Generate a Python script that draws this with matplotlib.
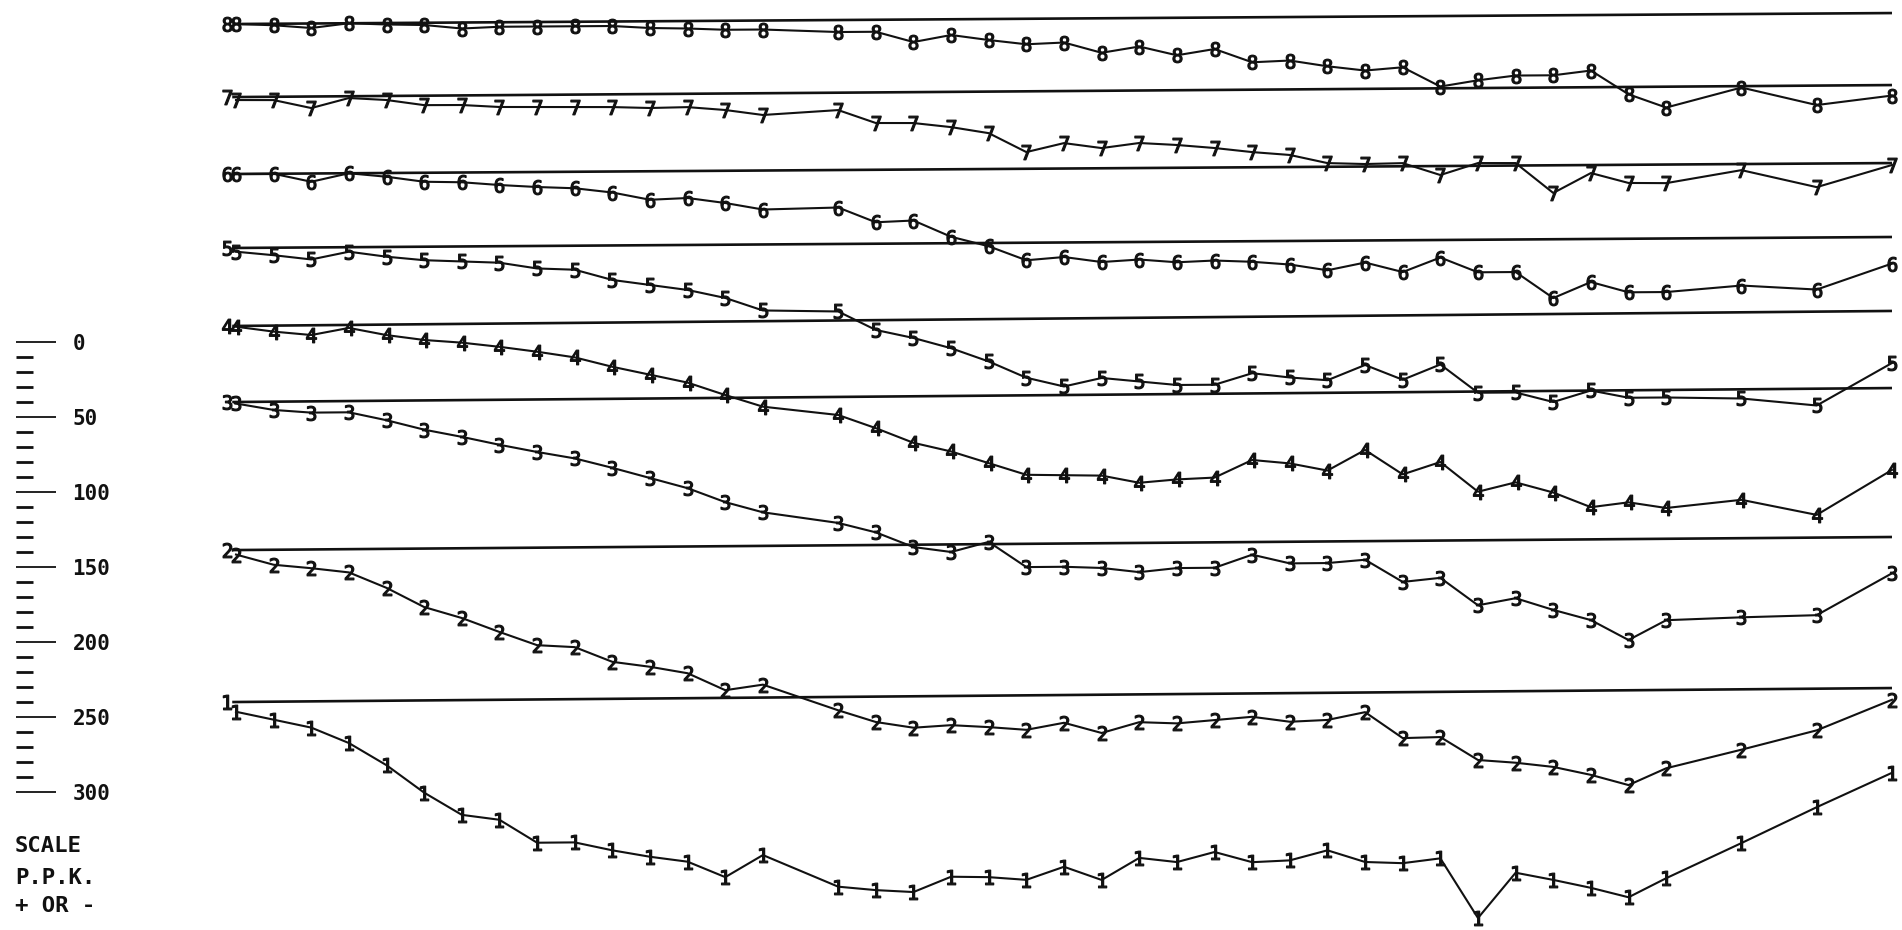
import matplotlib
matplotlib.use("Agg")
import matplotlib.pyplot as plt
from matplotlib.ticker import MultipleLocator, FixedLocator

# ---------------- data ----------------
# survey stations (index along the traverse); stations 15, 39, 41, 43 not read
stations = list(range(0, 15)) + list(range(16, 39)) + [40, 42, 44]

# anomaly in P.P.K. relative to each profile's base line (negative = below)
profile_1 = [-6.5, -12, -17.5, -28, -43, -61.5, -76.5, -80, -95.5, -95.5, -101, -105.5, -109, -119.5, -105,
             -126.5, -129, -130.5, -120.5, -121, -123, -114.5, -123.5, -109, -112, -105.5, -112.5, -111.5, -105,
             -113, -114, -111, -151, -121, -126, -131.5, -138, -125.5,
             -102.5, -79, -56.5]
profile_2 = [-3, -10, -12.5, -15.5, -26, -39, -46.5, -56, -65, -66.5, -76.5, -80, -84.5, -96, -92.5,
             -110, -118, -122, -120.5, -122, -124, -119.5, -126.5, -119.5, -120.5, -118.5, -116.5, -120, -119,
             -114, -131.5, -131, -146.5, -148.5, -151.5, -157, -164, -153,
             -141, -128.5, -108.5]
profile_3 = [-1, -5.5, -7.5, -7.5, -13, -19.5, -24.5, -30, -35, -39.5, -46, -53, -60, -69.5, -76.5,
             -84, -90.5, -100.5, -104, -97.5, -114.5, -114.5, -115.5, -118.5, -116, -116, -107.5, -113.5, -113.5,
             -111.5, -126.5, -124, -142.5, -138, -146, -153, -166.5, -153.5,
             -152, -151, -123.5]
profile_4 = [-0.5, -4, -6.5, -2, -7, -10.5, -12.5, -15.5, -19, -23, -29.5, -35, -40.5, -49, -57,
             -63, -72, -82, -88, -96, -104, -104.5, -105, -110, -108, -107, -95.5, -98, -103,
             -89.5, -106, -98, -118, -112, -119, -129, -126, -130,
             -125, -135.5, -106]
profile_5 = [-2.5, -5, -8, -3, -6.5, -9, -10, -11, -15, -16, -23, -26.5, -30, -35.5, -44,
             -45, -57.5, -63, -70, -79, -90, -96, -90.5, -93, -95.5, -95.5, -88, -91, -93,
             -83, -93, -83, -102, -102, -108.5, -101, -106, -106,
             -107, -112, -84]
profile_6 = [0, 0, -5.5, 0, -2.5, -6, -6.5, -8.5, -10, -11, -14, -19, -18, -21.5, -26,
             -25, -35, -34, -45, -51.5, -61, -59, -62.5, -61, -63, -62, -63, -65, -69,
             -64, -70.5, -61, -71, -71, -88.5, -78, -85, -85,
             -81, -84, -67]
profile_7 = [-2, -2.2, -7.7, -1.2, -2.7, -6.3, -6.4, -7.9, -8.1, -8.3, -8.5, -9.3, -8.9, -11, -14.5,
             -11.6, -20.4, -20.6, -23.5, -27.7, -40.5, -34.7, -38.2, -35, -36.5, -38.7, -41.6, -43.7, -49.3,
             -50.1, -49.7, -57.8, -50, -50.2, -70.3, -57.2, -64, -64.3,
             -56, -67.7, -53.3]
profile_8 = [0, -1, -3, 0, -1, -1.5, -4, -3, -3, -3, -3, -4.5, -5, -6, -6,
             -8, -8, -15, -10.5, -14, -17, -16, -23, -19, -25, -21, -30, -29, -33,
             -36, -34, -47, -43, -40, -40, -37, -53, -62,
             -49, -61, -55]

profile_ids = [1, 2, 3, 4, 5, 6, 7, 8]
profiles = [profile_1, profile_2, profile_3, profile_4, profile_5, profile_6, profile_7, profile_8]

scale_major = [0, 50, 100, 150, 200, 250, 300]
scale_lines = ["SCALE", "P.P.K.", "+ OR -"]

# ---------------- layout ----------------
W, H = 1902, 930
PX_PER_STATION = 37.636
X0_PX = 236            # pixel of station 0
PX_PER_PPK = 1.5
LAST = 44
# base-line level (in P.P.K. units from top of sheet) at left end, and fall toward the right
base_left = {1: 468, 2: 366.7, 3: 268, 4: 217.3, 5: 165.3, 6: 116, 7: 64.7, 8: 16}
base_fall = {1: 9.3, 2: 8.7, 3: 9.3, 4: 10, 5: 7.3, 6: 7.3, 7: 8, 8: 7.3}

MONO = "DejaVu Sans Mono"
plt.rcParams["mathtext.fontset"] = "custom"
plt.rcParams["mathtext.rm"] = MONO
plt.rcParams["mathtext.it"] = MONO

fig = plt.figure(figsize=(W / 100, H / 100), dpi=100)
fig.patch.set_facecolor("white")
ax = fig.add_axes([0, 0, 1, 1])
ax.set_xlim(-X0_PX / PX_PER_STATION, (W - X0_PX) / PX_PER_STATION)
ax.set_ylim(H / PX_PER_PPK, 0)
ax.axis("off")

INK = "#111111"
for pid, vals in zip(profile_ids, profiles):
    L, F = base_left[pid], base_fall[pid]
    # base line
    ax.plot([-0.1, LAST], [L + 0.1 * F / LAST, L - F], color=INK, lw=1.9,
            solid_capstyle="butt", zorder=2)
    ys = [L - F * s / LAST - v for s, v in zip(stations, vals)]
    ax.plot(stations, ys, color=INK, lw=1.5, marker=f"${pid}$", ms=10.5,
            mew=0.9, zorder=3)
    # profile number at the start of the base line
    ax.plot([-0.25], [L], linestyle="none", marker=f"${pid}$", ms=10.5, color=INK,
            mew=0.9, zorder=3)

# ---------------- scale ----------------
top_px, bot_px = 342, 792
sax = fig.add_axes([15 / W, 1 - bot_px / H, 0.5 / W, (bot_px - top_px) / H])
sax.set_ylim(300, 0)
sax.set_xlim(0, 1)
for sp in sax.spines.values():
    sp.set_visible(False)
sax.xaxis.set_visible(False)
sax.patch.set_alpha(0)
sax.yaxis.set_major_locator(FixedLocator(scale_major))
sax.yaxis.set_minor_locator(MultipleLocator(10))
sax.yaxis.tick_right()
sax.tick_params(axis="y", which="major", direction="out", length=29, width=1.3,
                pad=12, labelsize=15, right=True, left=False, colors=INK,
                labelright=True, labelleft=False)
sax.tick_params(axis="y", which="minor", direction="out", length=12, width=2.0,
                right=True, left=False, colors=INK)
for lab in sax.get_yticklabels():
    lab.set_family(MONO)
    lab.set_fontweight("bold")

for txt, ypx in zip(scale_lines, [846, 878, 906]):
    fig.text(15 / W, 1 - ypx / H, txt, ha="left", va="center", fontsize=16,
             family=MONO, fontweight="bold", color=INK)

fig.savefig("out.png", dpi=100, facecolor="white")
